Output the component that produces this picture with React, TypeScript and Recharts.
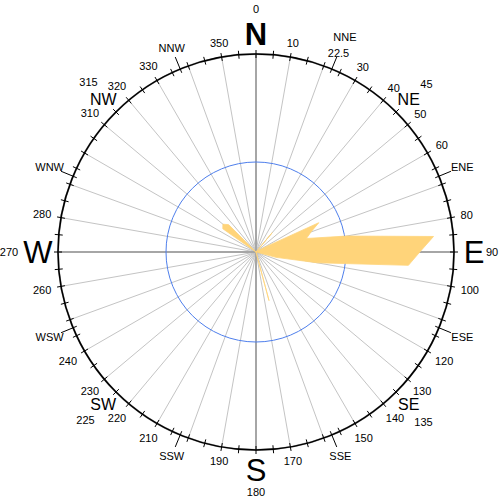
import React from 'react';
import { RadarChart, Radar, PolarGrid, PolarAngleAxis, PolarRadiusAxis } from 'recharts';

// wind direction bins (degrees from north, clockwise)
const directions = [
  0, 5, 10, 15, 20, 25, 30, 35, 40, 45, 50, 55,
  60, 65, 70, 75, 80, 85, 90, 95, 100, 105, 110, 115,
  120, 125, 130, 135, 140, 145, 150, 155, 160, 165, 170, 175,
  180, 185, 190, 195, 200, 205, 210, 215, 220, 225, 230, 235,
  240, 245, 250, 255, 260, 265, 270, 275, 280, 285, 290, 295,
  300, 305, 310, 315, 320, 325, 330, 335, 340, 345, 350, 355,
];

// frequency per bin (blue ring = 10)
const frequency = [
  0, 0, 0, 0, 0, 0, 0, 0, 2.8, 0, 0, 0,
  0.8, 7.7, 6.5, 5.8, 10.2, 19.8, 18.2, 17.0, 6.9, 2.3, 0, 0,
  0, 0, 0, 0, 0, 0, 0, 0, 0, 5.6, 0, 0,
  0, 0, 0, 0, 0, 0, 0, 0, 0, 0, 0, 0,
  0, 0, 0, 0, 0, 0, 0, 0, 0, 0, 0, 0,
  0, 4.5, 4.8, 4.3, 0, 0, 0, 0, 0, 0, 0, 0,
];

const spokeDirections = [10, 20, 30, 40, 50, 60, 70, 80, 100, 110, 120, 130, 140, 150, 160, 170,
  190, 200, 210, 220, 230, 240, 250, 260, 280, 290, 300, 310, 320, 330, 340, 350];
const mainDirections = [0, 90, 180, 270];

const numberLabels = [10, 30, 40, 50, 60, 80, 100, 120, 130, 140, 150, 170, 190, 210,
  220, 230, 240, 260, 280, 310, 320, 330, 350];
const cardinalNames = ['N', 'E', 'S', 'W'];
const cardinalAngles = [0, 90, 180, 270];
const interNames = ['NE', 'SE', 'SW', 'NW'];
const interAngles = [45, 135, 225, 315];
const minorNames = ['NNE', 'ENE', 'ESE', 'SSE', 'SSW', 'WSW', 'WNW', 'NNW'];
const minorAngles = [22.5, 67.5, 112.5, 157.5, 202.5, 247.5, 292.5, 337.5];

const data = directions.map((d, i) => ({ dir: d, freq: frequency[i] }));
const ringTicks = [...directions, ...minorAngles];

const CX = 256;
const CY = 252;
const R = 198;
const FONT = '"Liberation Sans", Arial, sans-serif';
// distance of the 0/90/180/270 degree numbers from the centre
const cardinalNumberRadius = [243, 236, 240, 247];

const pt = (deg: number, r: number) => {
  const a = (deg * Math.PI) / 180;
  return { x: CX + r * Math.sin(a), y: CY - r * Math.cos(a) };
};

const label = (deg: number, r: number, text: string, size: number, bold = false) => {
  const p = pt(deg, r);
  return (
    <text key={text + deg} x={p.x} y={p.y} textAnchor="middle" dominantBaseline="central"
      fontSize={size} fontFamily={FONT} fontWeight={bold ? 'bold' : 'normal'} fill="#000">
      {text}
    </text>
  );
};

// put the text box just outside the ring
const outside = (deg: number, gap: number, text: string, size: number) => {
  const a = (deg * Math.PI) / 180;
  const hw = text.length * size * 0.29;
  const hh = size * 0.36;
  const r = R + gap + hw * Math.abs(Math.sin(a)) + hh * Math.abs(Math.cos(a));
  return label(deg, r, text, size);
};

const RingTick = (props: any) => {
  const v = props.payload.value;
  const isMinor = minorAngles.indexOf(v) >= 0;
  const p1 = pt(v, R - 4);
  const p2 = pt(v, R + (isMinor ? 13 : 4));
  const out = [
    <line key="t" x1={p1.x} y1={p1.y} x2={p2.x} y2={p2.y} stroke="#000" strokeWidth={1} />,
  ];
  const c = cardinalAngles.indexOf(v);
  if (c >= 0) {
    out.push(label(v, R + 20, cardinalNames[c], 31, c === 0));
    out.push(label(v, cardinalNumberRadius[c], String(v), 11));
  }
  const ic = interAngles.indexOf(v);
  if (ic >= 0) {
    out.push(label(v, R + 18, interNames[ic], 16));
    out.push(label(v + 0.5, R + 41, String(v), 11));
  }
  const m = minorAngles.indexOf(v);
  if (m >= 0) {
    if (v === 22.5) {
      out.push(outside(v, 9, '22.5', 11));
      out.push(outside(v, 27, minorNames[m], 11));
    } else {
      out.push(outside(v, 15, minorNames[m], 11));
    }
  }
  if (numberLabels.indexOf(v) >= 0) out.push(outside(v, 9, String(v), 11));
  return <g>{out}</g>;
};

const App = () => (
  <div style={{ position: 'absolute', left: 0, top: 0 }}>
    <RadarChart width={500} height={500} data={data} cx={CX} cy={CY} outerRadius={R}
      margin={{ top: 0, right: 0, bottom: 0, left: 0 }}>
      <PolarAngleAxis dataKey="dir" tick={false} tickLine={false} axisLine={false} />
      <PolarRadiusAxis domain={[0, 22]} tick={false} axisLine={false} />
      <Radar dataKey="freq" fill="#ffd47a" fillOpacity={1} stroke="#ffd47a" strokeWidth={0.8}
        dot={false} isAnimationActive={false} />
      <PolarGrid gridType="circle" polarAngles={spokeDirections.map((d) => 90 - d)}
        polarRadius={[R]} stroke="#c4c4c4" strokeWidth={1} />
      <PolarGrid gridType="circle" polarAngles={mainDirections.map((d) => 90 - d)}
        polarRadius={[R]} stroke="#a6a6a6" strokeWidth={2} />
      <PolarGrid gridType="circle" radialLines={false} polarAngles={[90]}
        polarRadius={[90]} stroke="#4f7fec" strokeWidth={1} />
      <PolarGrid gridType="circle" radialLines={false} polarAngles={[90]}
        polarRadius={[R]} stroke="#000" strokeWidth={1.5} />
      <PolarAngleAxis angleAxisId="deg" type="number" domain={[0, 360]} ticks={ringTicks}
        tick={RingTick} tickLine={false} axisLine={false} />
    </RadarChart>
  </div>
);

export default App;
